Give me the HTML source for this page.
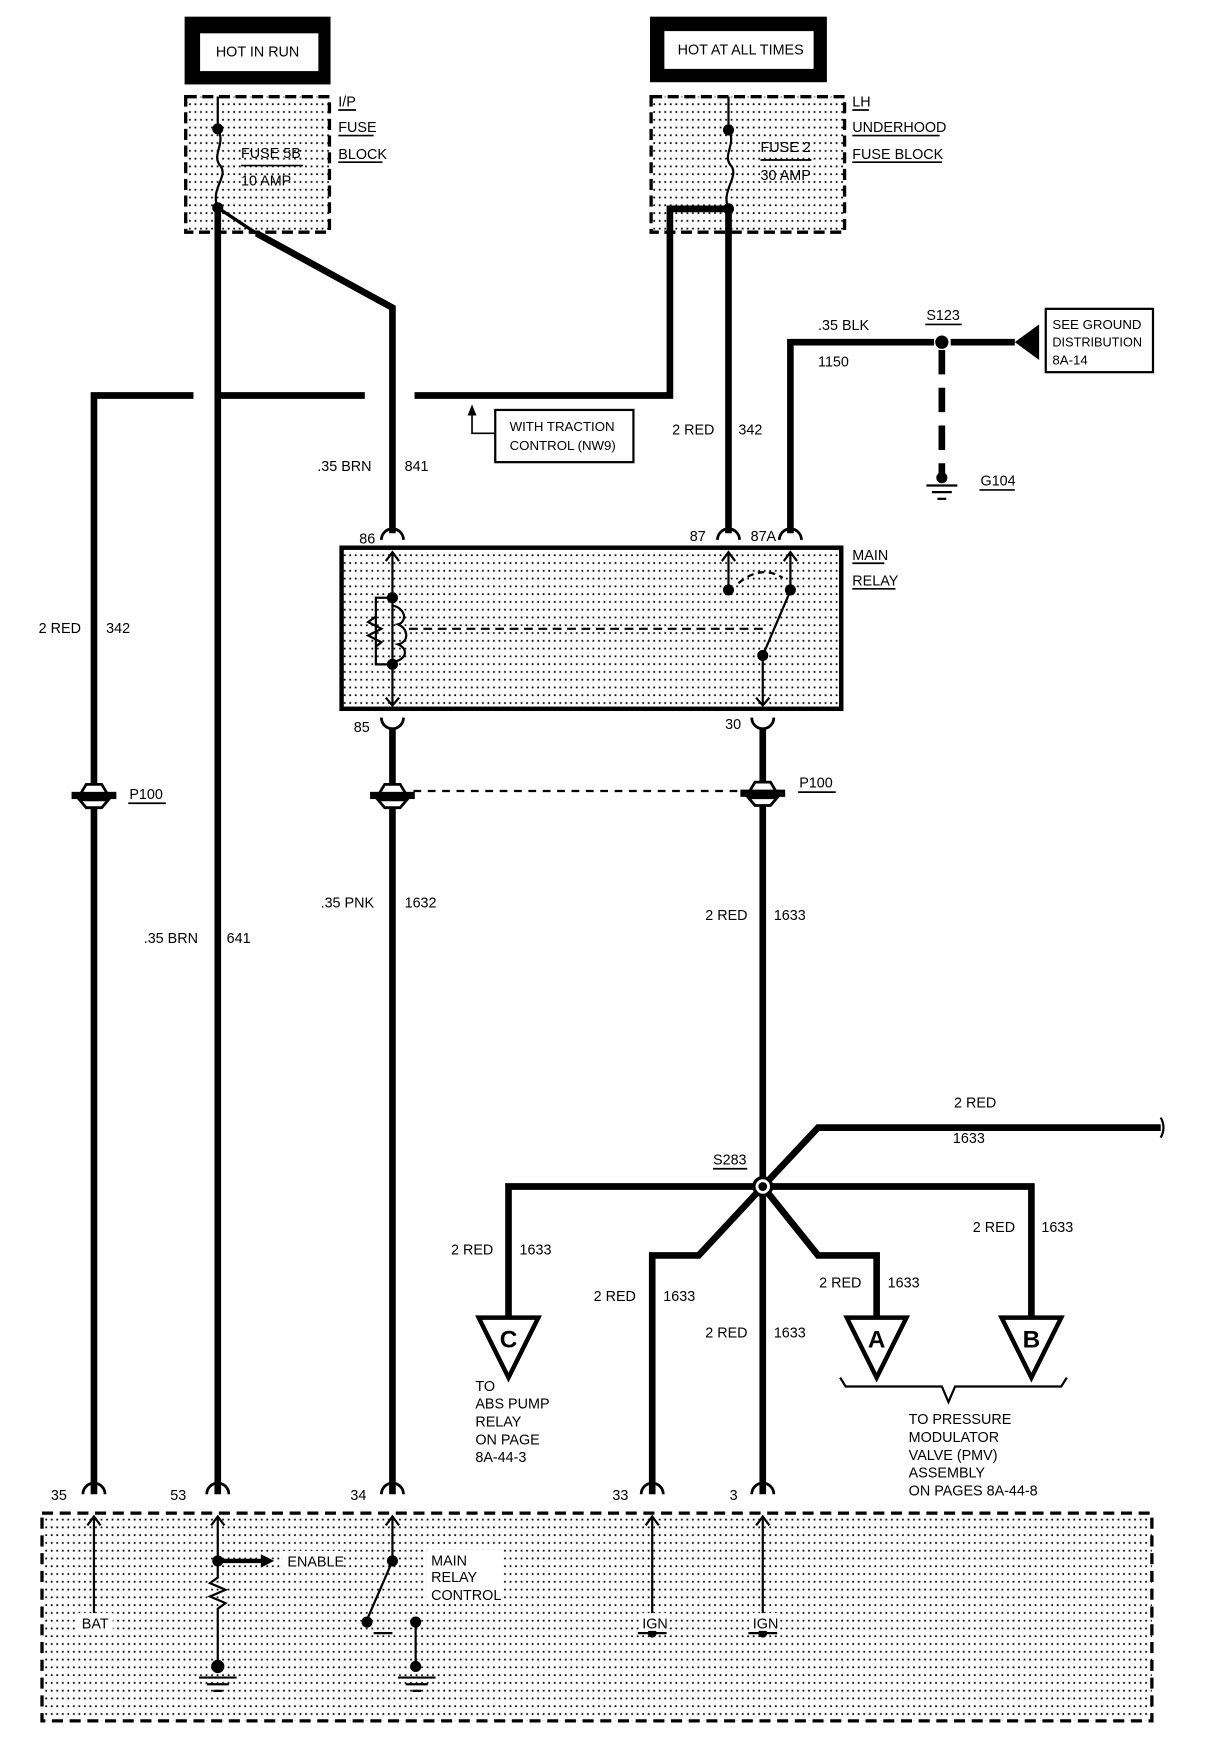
<!DOCTYPE html>
<html><head><meta charset="utf-8"><style>
html,body{margin:0;padding:0;background:#fff}
svg{display:block}
text{font-family:"Liberation Sans",sans-serif;font-size:13px;fill:#000}
</style></head><body>
<svg width="1216" height="1742" viewBox="0 0 1100 1568" preserveAspectRatio="none" xmlns="http://www.w3.org/2000/svg">
<defs>
<pattern id="dots" width="5" height="7" patternUnits="userSpaceOnUse"><rect x="1" y="2" width="1.6" height="1.6" fill="#000"/></pattern>
</defs>
<rect width="1100" height="1568" fill="#fff"/>

<rect x="167" y="15" width="132" height="61" fill="#000"/>
<rect x="181" y="30" width="107" height="34" fill="#fff"/>
<text x="233" y="51" text-anchor="middle">HOT IN RUN</text>
<rect x="588" y="15" width="160" height="59" fill="#000"/>
<rect x="601" y="28" width="135" height="34" fill="#fff"/>
<text x="670" y="49" text-anchor="middle">HOT AT ALL TIMES</text>

<rect x="168" y="87" width="130" height="122" fill="url(#dots)" stroke="#000" stroke-width="3" stroke-dasharray="10,5"/>
<rect x="589" y="87" width="175" height="122" fill="url(#dots)" stroke="#000" stroke-width="3" stroke-dasharray="10,5"/>
<text x="306" y="96">I/P</text><line x1="306" y1="99" x2="322" y2="99" stroke="#000" stroke-width="1.5"/>
<text x="306" y="119">FUSE</text><line x1="306" y1="122" x2="338" y2="122" stroke="#000" stroke-width="1.5"/>
<text x="306" y="143">BLOCK</text><line x1="306" y1="146" x2="346" y2="146" stroke="#000" stroke-width="1.5"/>
<text x="771" y="96">LH</text><line x1="771" y1="99" x2="786" y2="99" stroke="#000" stroke-width="1.5"/>
<text x="771" y="119">UNDERHOOD</text><line x1="771" y1="122" x2="850" y2="122" stroke="#000" stroke-width="1.5"/>
<text x="771" y="143">FUSE BLOCK</text><line x1="771" y1="146" x2="852" y2="146" stroke="#000" stroke-width="1.5"/>
<text x="218" y="142">FUSE 5B</text><line x1="218" y1="149" x2="274" y2="149" stroke="#000" stroke-width="1.5"/>
<text x="218" y="167">10 AMP</text>
<text x="688" y="137">FUSE 2</text><line x1="688" y1="144" x2="734" y2="144" stroke="#000" stroke-width="1.5"/>
<text x="688" y="162">30 AMP</text>

<g stroke="#000" fill="none" stroke-width="2">
<path d="M197 87 V116 C205 130 190 140 200 150 C206 160 190 170 197 187"/>
<path d="M659 87 V117 C667 130 652 140 662 150 C668 160 652 172 659 188"/>
<path d="M197 187 L232 210" stroke-width="3"/>
</g>
<circle cx="197" cy="116" r="5"/><circle cx="197" cy="187" r="5"/>
<circle cx="659" cy="117" r="5"/><circle cx="659" cy="188" r="5"/>

<g stroke="#000" fill="none" stroke-width="6">
<path d="M659 188 H606 V356 H375"/>
<path d="M330 356 H195"/>
<path d="M175 356 H85 V1345"/>
<path d="M197 187 V1345"/>
<path d="M232 210 L355 277 V480"/>
<path d="M659 188 V480"/>
<path d="M715 480 V308 H845"/>
<path d="M355 655 V1345"/>
<path d="M690 655 V1345"/>
<path d="M690 1068 L740 1015 H1050"/>
<path d="M690 1068 H460 V1185"/>
<path d="M690 1068 H933 V1185"/>
<path d="M690 1068 L632 1130 H590 V1345"/>
<path d="M690 1068 L740 1130 H793 V1185"/>
<path d="M860 308 H918"/>
<path d="M852 315 V428" stroke-dasharray="22,12"/>
</g>
<path d="M1050 1006 Q1055 1015 1050 1024" stroke="#000" stroke-width="2" fill="none"/>
<circle cx="852" cy="308" r="6"/>
<polygon points="918,308 940,292 940,324"/>
<rect x="946" y="278" width="97" height="57" fill="#fff" stroke="#000" stroke-width="2"/>
<text x="952" y="296" style="font-size:12px">SEE GROUND</text><text x="952" y="312" style="font-size:11.5px">DISTRIBUTION</text><text x="952" y="328" style="font-size:12px">8A-14</text>
<text x="838" y="288">S123</text><line x1="837" y1="292" x2="870" y2="292" stroke="#000" stroke-width="1.5"/>
<text x="740" y="297">.35 BLK</text><text x="740" y="330">1150</text>
<circle cx="852" cy="430" r="5"/>
<g stroke="#000" stroke-width="2"><line x1="838" y1="437" x2="866" y2="437"/><line x1="843" y1="443" x2="861" y2="443"/><line x1="848" y1="449" x2="856" y2="449"/></g>
<text x="887" y="437">G104</text><line x1="886" y1="441" x2="918" y2="441" stroke="#000" stroke-width="1.5"/>

<rect x="448" y="369" width="125" height="47" fill="#fff" stroke="#000" stroke-width="2"/>
<text x="461" y="388" style="font-size:12px">WITH TRACTION</text><text x="461" y="405" style="font-size:12px">CONTROL (NW9)</text>
<path d="M448 390 H427 V372" stroke="#000" stroke-width="1.5" fill="none"/>
<polygon points="427,364 423,374 431,374"/>

<text x="287" y="424">.35 BRN</text><text x="366" y="424">841</text>
<text x="608" y="391">2 RED</text><text x="668" y="391">342</text>
<text x="35" y="570">2 RED</text><text x="96" y="570">342</text>
<text x="130" y="849">.35 BRN</text><text x="205" y="849">641</text>
<text x="290" y="817">.35 PNK</text><text x="366" y="817">1632</text>
<text x="638" y="828">2 RED</text><text x="700" y="828">1633</text>
<text x="863" y="997">2 RED</text><text x="862" y="1029">1633</text>
<text x="408" y="1129">2 RED</text><text x="470" y="1129">1633</text>
<text x="537" y="1171">2 RED</text><text x="600" y="1171">1633</text>
<text x="638" y="1204">2 RED</text><text x="700" y="1204">1633</text>
<text x="741" y="1159">2 RED</text><text x="803" y="1159">1633</text>
<text x="880" y="1109">2 RED</text><text x="942" y="1109">1633</text>

<rect x="309" y="493" width="452" height="145" fill="url(#dots)" stroke="#000" stroke-width="4"/>
<text x="771" y="504">MAIN</text><line x1="771" y1="507" x2="800" y2="507" stroke="#000" stroke-width="1.5"/>
<text x="771" y="527">RELAY</text><line x1="771" y1="530" x2="810" y2="530" stroke="#000" stroke-width="1.5"/>
<g stroke="#000" fill="none" stroke-width="2.5">
<path d="M345 486 A10 10 0 0 1 365 486"/><path d="M649 486 A10 10 0 0 1 669 486"/><path d="M705 486 A10 10 0 0 1 725 486"/>
<path d="M345 646 A10 10 0 0 0 365 646"/><path d="M680 646 A10 10 0 0 0 700 646"/>
<path d="M75 1345 A10 10 0 0 1 95 1345"/><path d="M187 1345 A10 10 0 0 1 207 1345"/><path d="M345 1345 A10 10 0 0 1 365 1345"/><path d="M580 1345 A10 10 0 0 1 600 1345"/><path d="M680 1345 A10 10 0 0 1 700 1345"/>
</g>
<g stroke="#000" fill="none" stroke-width="2">
<path d="M355 497 V635 M349 505 L355 497 L361 505 M349 628 L355 635 L361 628"/>
<path d="M355 538 H340 V598 H355"/>
<path d="M340 555 L333 560 L345 566 L333 572 L345 578 L340 582"/>
<path d="M355 545 C368 548 368 560 360 562 C370 566 370 578 360 580 C370 584 368 594 355 596"/>
<path d="M370 566 H690" stroke-dasharray="8,5"/>
<path d="M659 497 V531 M653 505 L659 497 L665 505"/>
<path d="M715 497 V531 M709 505 L715 497 L721 505"/>
<path d="M668 525 Q688 508 708 520" stroke-dasharray="6,4"/>
<path d="M690 590 L714 534"/>
<path d="M690 590 V635 M684 628 L690 635 L696 628"/>
</g>
<circle cx="355" cy="538" r="5"/><circle cx="355" cy="598" r="5"/>
<circle cx="659" cy="531" r="5"/><circle cx="715" cy="531" r="5"/><circle cx="690" cy="590" r="5"/>
<text x="325" y="489">86</text><text x="624" y="487">87</text><text x="679" y="487">87A</text>
<text x="320" y="659">85</text><text x="656" y="656">30</text>

<g fill="#fff" stroke="#000" stroke-width="2.5">
<path d="M72 716 L78 706 H92 L98 716 Z"/><rect x="66" y="714" width="38" height="4" fill="#000"/><path d="M72 720 L78 727 H92 L98 720 Z"/>
<path d="M342 716 L348 706 H362 L368 716 Z"/><rect x="336" y="714" width="38" height="4" fill="#000"/><path d="M342 720 L348 727 H362 L368 720 Z"/>
<path d="M677 714 L683 704 H697 L703 714 Z"/><rect x="671" y="712" width="38" height="4" fill="#000"/><path d="M677 718 L683 725 H697 L703 718 Z"/>
</g>
<path d="M374 712 H671" stroke="#000" stroke-width="2" stroke-dasharray="7,6"/>
<text x="117" y="719">P100</text><line x1="116" y1="723" x2="150" y2="723" stroke="#000" stroke-width="1.5"/>
<text x="723" y="709">P100</text><line x1="722" y1="713" x2="756" y2="713" stroke="#000" stroke-width="1.5"/>

<circle cx="690" cy="1068" r="8" fill="#fff" stroke="#000" stroke-width="3"/><circle cx="690" cy="1068" r="4"/>
<text x="645" y="1048">S283</text><line x1="645" y1="1052" x2="676" y2="1052" stroke="#000" stroke-width="1.5"/>

<g fill="#fff" stroke="#000" stroke-width="4">
<polygon points="433,1186 487,1186 460,1240"/>
<polygon points="766,1186 820,1186 793,1240"/>
<polygon points="906,1186 960,1186 933,1240"/>
</g>
<text x="460" y="1213" text-anchor="middle" style="font-size:22px;font-weight:bold">C</text><text x="793" y="1213" text-anchor="middle" style="font-size:22px;font-weight:bold">A</text><text x="933" y="1213" text-anchor="middle" style="font-size:22px;font-weight:bold">B</text>
<path d="M760 1240 L765 1248 H852 L858 1262 L864 1248 H960 L965 1240" stroke="#000" stroke-width="2" fill="none"/>
<text x="430" y="1252">TO</text><text x="430" y="1268">ABS PUMP</text><text x="430" y="1284">RELAY</text><text x="430" y="1300">ON PAGE</text><text x="430" y="1316">8A-44-3</text>
<text x="822" y="1282">TO PRESSURE</text><text x="822" y="1298">MODULATOR</text><text x="822" y="1314">VALVE (PMV)</text><text x="822" y="1330">ASSEMBLY</text><text x="822" y="1346">ON PAGES 8A-44-8</text>

<rect x="38" y="1362" width="1004" height="187" fill="url(#dots)" stroke="#000" stroke-width="3" stroke-dasharray="10,6"/>
<text x="46" y="1350">35</text><text x="154" y="1350">53</text><text x="317" y="1350">34</text><text x="554" y="1350">33</text><text x="660" y="1350">3</text>
<g stroke="#000" fill="none" stroke-width="2">
<path d="M85 1460 V1365 M79 1373 L85 1365 L91 1373 M72 1460 H98"/>
<path d="M590 1470 V1365 M584 1373 L590 1365 L596 1373 M577 1470 H603"/>
<path d="M690 1470 V1365 M684 1373 L690 1365 L696 1373 M677 1470 H703"/>
<path d="M197 1365 V1420 L190 1425 L204 1431 L190 1437 L204 1443 L197 1448 V1500 M191 1373 L197 1365 L203 1373"/>
<path d="M355 1365 V1405 L332 1458 M349 1373 L355 1365 L361 1373 M338 1470 H355 M376 1460 V1500"/>
<path d="M180 1510 H214 M187 1516 H207 M193 1522 H201"/>
<path d="M360 1510 H394 M367 1516 H387 M373 1522 H381"/>
</g>
<path d="M197 1405 H238" stroke="#000" stroke-width="4"/><polygon points="236,1399 248,1405 236,1411"/>
<circle cx="85" cy="1460" r="4"/><circle cx="590" cy="1470" r="4"/><circle cx="690" cy="1470" r="4"/>
<circle cx="197" cy="1405" r="5"/><circle cx="197" cy="1500" r="6"/>
<circle cx="355" cy="1405" r="5"/><circle cx="332" cy="1460" r="5"/><circle cx="376" cy="1460" r="5"/><circle cx="376" cy="1500" r="5"/>
<rect x="70" y="1452" width="32" height="18" fill="#fff"/><text x="74" y="1466">BAT</text>
<rect x="256" y="1396" width="55" height="18" fill="#fff"/><text x="260" y="1410">ENABLE</text>
<rect x="386" y="1395" width="68" height="48" fill="#fff"/><text x="390" y="1409">MAIN</text><text x="390" y="1424">RELAY</text><text x="390" y="1440">CONTROL</text>
<rect x="578" y="1452" width="26" height="16" fill="#fff"/><text x="581" y="1466">IGN</text>
<rect x="678" y="1452" width="26" height="16" fill="#fff"/><text x="681" y="1466">IGN</text>
</svg>
</body></html>
